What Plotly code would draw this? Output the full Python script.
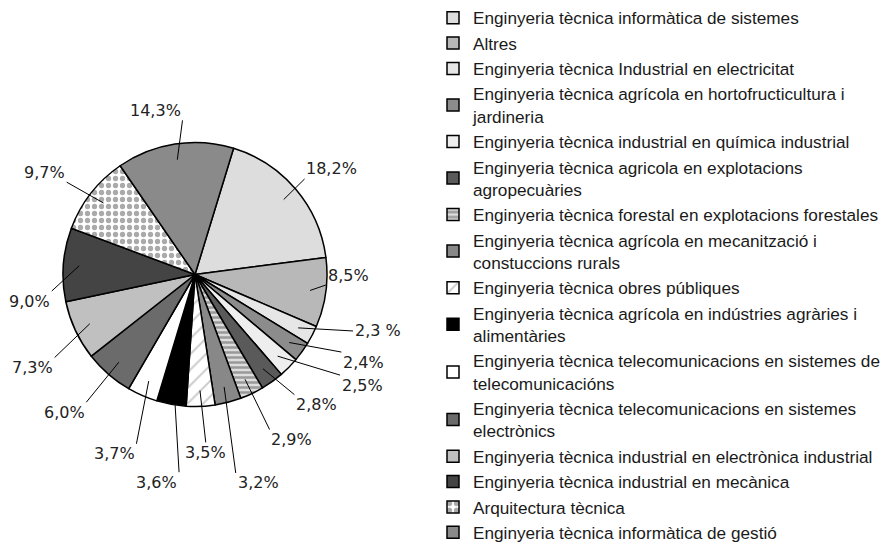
import math
import plotly.graph_objects as go

W, H = 882, 556

# Share of graduates per degree (percent), in drawing order (clockwise)
titulacions = [
    "Enginyeria tècnica informàtica de sistemes",
    "Altres",
    "Enginyeria tècnica Industrial en electricitat",
    "Enginyeria tècnica agrícola en hortofructicultura i<br>jardineria",
    "Enginyeria tècnica industrial en química industrial",
    "Enginyeria tècnica agricola en explotacions<br>agropecuàries",
    "Enginyeria tècnica forestal en explotacions forestales",
    "Enginyeria tècnica agrícola en mecanització i<br>constuccions rurals",
    "Enginyeria tècnica obres públiques",
    "Enginyeria tècnica agrícola en indústries agràries i<br>alimentàries",
    "Enginyeria tècnica telecomunicacions en sistemes de<br>telecomunicacións",
    "Enginyeria tècnica telecomunicacions en sistemes<br>electrònics",
    "Enginyeria tècnica industrial en electrònica industrial",
    "Enginyeria tècnica industrial en mecànica",
    "Arquitectura tècnica",
    "Enginyeria tècnica informàtica de gestió",
]
percentatges = [18.2, 8.5, 2.3, 2.4, 2.5, 2.8, 2.9, 3.2, 3.5, 3.6, 3.7, 6.0, 7.3, 9.0, 9.7, 14.3]
etiquetes = ["18,2%", "8,5%", "2,3 %", "2,4%", "2,5%", "2,8%", "2,9%", "3,2%",
             "3,5%", "3,6%", "3,7%", "6,0%", "7,3%", "9,0%", "9,7%", "14,3%"]

# Fill styling
colors = ["#dddddd", "#b8b8b8", "#e6e6e6", "#8c8c8c", "#eeeeee", "#5a5a5a", "#dddddd", "#888888",
          "#ffffff", "#000000", "#ffffff", "#6b6b6b", "#c0c0c0", "#444444", "#ffffff", "#8a8a8a"]
pat_shape = ["", "", "", "", "", "", "-", "", "/", "", "", "", "", "", ".", ""]
pat_fg = ["#000"] * 16
pat_fg[6], pat_fg[8], pat_fg[14] = "#555555", "#9a9a9a", "#555555"
pat_size = [8] * 16
pat_size[6], pat_size[8], pat_size[14] = 5, 11, 7
pat_sol = [0.3] * 16
pat_sol[6], pat_sol[8], pat_sol[14] = 0.5, 0.18, 0.45

# Pie geometry (pixels)
CX, CY, R = 195, 274.5, 132
ROT = 17  # start angle, degrees clockwise from 12 o'clock

# Label placement: angle shift from slice centre (deg) and distance (in radii)
lab_shift = [2.6, -7.7, -10.2, -8.4, -11.2, -7.3, -4.9, -2.3, -1.0, 0.1, 0.8, 2.6, -4.7, -13.4, -3.8, -4.9]
lab_dist = [1.31, 1.16, 1.45, 1.44, 1.52, 1.35, 1.45, 1.65, 1.35, 1.6, 1.49, 1.44, 1.42, 1.27, 1.38, 1.28]
LAB_FONT = 16


def px_to_paper(x, y):
    return x / W, 1 - y / H


def polar(angle_deg, dist):
    a = math.radians(angle_deg)
    return CX + dist * math.sin(a), CY - dist * math.cos(a)


def text_width(s, size):
    w = {",": 0.318, "%": 0.95, " ": 0.318}
    return sum(w.get(c, 0.636) for c in s) * size


fig = go.Figure()
fig.add_trace(go.Pie(
    labels=titulacions,
    values=percentatges,
    sort=False,
    direction="clockwise",
    rotation=ROT,
    textinfo="none",
    hoverinfo="label+percent",
    marker=dict(
        colors=colors,
        line=dict(color="#000000", width=1.5),
        pattern=dict(shape=pat_shape, fgcolor=pat_fg, bgcolor=colors,
                     size=pat_size, solidity=pat_sol, fillmode="overlay"),
    ),
    domain=dict(x=[(CX - R) / W, (CX + R) / W], y=[1 - (CY + R) / H, 1 - (CY - R) / H]),
    showlegend=True,
))

total = sum(percentatges)
cum = 0.0
shapes, annotations = [], []
for i, v in enumerate(percentatges):
    mid = ROT + (cum + v / 2) / total * 360
    cum += v
    ix, iy = polar(mid, 0.88 * R)
    lx, ly = polar(mid + lab_shift[i], lab_dist[i] * R)
    hw = text_width(etiquetes[i], LAB_FONT) / 2 + 2
    hh = 10
    anchors = [(lx + sx * hw, ly + sy * hh) for sx in (-1, 0, 1) for sy in (-1, 0, 1) if (sx, sy) != (0, 0)]
    ax, ay = min(anchors, key=lambda p: (p[0] - ix) ** 2 + (p[1] - iy) ** 2)
    x0, y0 = px_to_paper(ix, iy)
    x1, y1 = px_to_paper(ax, ay)
    shapes.append(dict(type="line", xref="paper", yref="paper", x0=x0, y0=y0, x1=x1, y1=y1,
                       line=dict(color="#000000", width=1)))
    tx, ty = px_to_paper(lx, ly)
    annotations.append(dict(x=tx, y=ty, xref="paper", yref="paper", text=etiquetes[i],
                            showarrow=False, xanchor="center", yanchor="middle",
                            font=dict(family="DejaVu Sans", size=LAB_FONT, color="#222222")))

fig.update_layout(
    width=W, height=H,
    margin=dict(l=0, r=0, t=0, b=0, autoexpand=False),
    paper_bgcolor="#ffffff",
    plot_bgcolor="#ffffff",
    shapes=shapes,
    annotations=annotations,
    legend=dict(
        x=433 / W, y=1, xanchor="left", yanchor="top",
        font=dict(family="Liberation Sans", size=17.2, color="#1a1a1a"),
        bgcolor="rgba(0,0,0,0)", borderwidth=0,
        itemclick=False, itemdoubleclick=False,
    ),
)

fig.write_html("out.html")
